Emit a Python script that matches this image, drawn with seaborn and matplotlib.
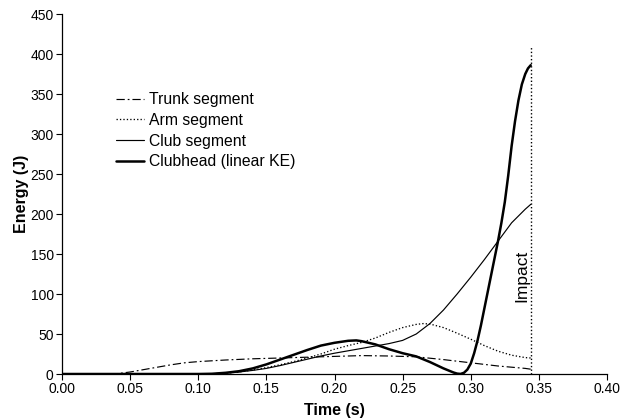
import matplotlib
matplotlib.use("Agg")
import matplotlib.pyplot as plt
import seaborn as sns
import pandas as pd

# Segment energies during the downswing (time in s, energy in J)
trunk_t = [0.00, 0.03, 0.04, 0.05, 0.06, 0.07, 0.08, 0.09, 0.10, 0.12, 0.14, 0.16,
           0.18, 0.20, 0.22, 0.24, 0.26, 0.28, 0.30, 0.32, 0.34, 0.344]
trunk_e = [0.0, 0.0, 0.3, 2.5, 5.5, 8.5, 11.5, 14.0, 15.5, 17.5, 19.0, 20.0,
           21.0, 22.0, 23.0, 22.5, 21.5, 18.0, 14.0, 10.0, 7.0, 6.0]

arm_t = [0.00, 0.10, 0.11, 0.12, 0.13, 0.14, 0.15, 0.16, 0.17, 0.18, 0.19, 0.20,
         0.21, 0.22, 0.23, 0.24, 0.25, 0.26, 0.265, 0.27, 0.28, 0.29, 0.30,
         0.31, 0.32, 0.33, 0.34, 0.344]
arm_e = [0.0, 0.0, 0.3, 1.0, 2.5, 5.0, 8.0, 11.5, 15.5, 20.0, 25.0, 31.0,
         35.5, 39.5, 45.0, 52.0, 58.0, 62.0, 63.0, 62.5, 58.0, 51.0, 43.5,
         35.5, 28.5, 23.5, 20.5, 20.0]

club_t = [0.00, 0.10, 0.11, 0.12, 0.13, 0.14, 0.15, 0.16, 0.17, 0.18, 0.19, 0.20,
          0.21, 0.22, 0.23, 0.24, 0.25, 0.26, 0.27, 0.28, 0.29, 0.30, 0.31,
          0.32, 0.33, 0.34, 0.344]
club_e = [0.0, 0.0, 0.3, 1.0, 2.5, 4.5, 7.0, 10.5, 14.5, 18.5, 22.5, 26.0,
          29.0, 32.0, 35.0, 38.0, 42.0, 50.0, 63.0, 80.0, 100.0, 121.0, 143.0,
          166.0, 189.0, 206.0, 212.0]

head_t = [0.00, 0.10, 0.11, 0.12, 0.13, 0.14, 0.15, 0.16, 0.17, 0.18, 0.19, 0.20,
          0.21, 0.216, 0.22, 0.23, 0.24, 0.25, 0.26, 0.27, 0.28, 0.285, 0.2875,
          0.29, 0.2925, 0.295, 0.2975, 0.30, 0.3025, 0.305, 0.3075, 0.31,
          0.3125, 0.315, 0.3175, 0.32, 0.3225, 0.325, 0.3275, 0.33, 0.3325,
          0.335, 0.3375, 0.34, 0.342, 0.344]
head_e = [0.0, 0.0, 0.3, 1.5, 3.5, 7.0, 12.0, 18.0, 24.0, 30.0, 35.5, 39.0,
          41.5, 42.0, 41.0, 37.0, 31.0, 26.0, 22.0, 15.0, 7.0, 3.5, 1.8,
          0.5, 0.1, 1.5, 5.5, 13.0, 26.0, 42.0, 61.0, 82.0,
          103.0, 124.0, 145.0, 166.0, 189.0, 215.0, 248.0, 285.0, 316.0,
          342.0, 362.0, 375.0, 382.0, 386.0]

impact_t = 0.344
impact_top = 410

labels = ["Trunk segment", "Arm segment", "Club segment", "Clubhead (linear KE)"]

sns.set_style("ticks")
plt.rcParams["font.family"] = ["Liberation Sans", "DejaVu Sans"]
plt.rcParams["text.color"] = "black"
plt.rcParams["axes.labelcolor"] = "black"

fig = plt.figure(figsize=(6.31, 4.20), dpi=100)
ax = fig.add_axes([62 / 631, 46 / 420, 545 / 631, 360 / 420])

series = [
    (trunk_t, trunk_e, dict(lw=0.85, dashes=(7, 2.5, 1.5, 2.5))),
    (arm_t, arm_e, dict(lw=0.95, dashes=(1, 1.6))),
    (club_t, club_e, dict(lw=0.85)),
    (head_t, head_e, dict(lw=1.8)),
]
for (t, e, style), name in zip(series, labels):
    df = pd.DataFrame({"Time": t, "Energy": e})
    sns.lineplot(data=df, x="Time", y="Energy", ax=ax, color="black",
                 label=name, **style)

# Moment of ball impact
ax.plot([impact_t, impact_t], [0, impact_top], color="black", lw=1.0,
        dashes=(1, 1.6))
ax.text(impact_t - 0.0012, 90, "Impact", rotation=90, ha="right", va="bottom",
        fontsize=12.5, color="black")

ax.set_xlim(0, 0.40)
ax.set_ylim(0, 450)
ax.set_xticks([0.00, 0.05, 0.10, 0.15, 0.20, 0.25, 0.30, 0.35, 0.40])
ax.set_xticklabels([f"{v:.2f}" for v in ax.get_xticks()])
ax.set_yticks(range(0, 451, 50))
ax.tick_params(axis="both", labelsize=10, length=4, width=0.8, pad=2,
               color="black", labelcolor="black")
for side in ("left", "bottom"):
    ax.spines[side].set_color("black")
    ax.spines[side].set_linewidth(0.9)
sns.despine(ax=ax)

ax.set_xlabel("Time (s)", fontsize=11.5, fontweight="bold", labelpad=5,
              color="black")
ax.set_ylabel("Energy (J)", fontsize=11.5, fontweight="bold", labelpad=1,
              color="black")

leg = ax.legend(loc="upper left", bbox_to_anchor=(0.088, 0.80), frameon=False,
                fontsize=11.3, handlelength=1.8, handletextpad=0.3,
                labelspacing=0.36, borderaxespad=0, labelcolor="black")

fig.savefig("out.png", dpi=100, facecolor="white")
